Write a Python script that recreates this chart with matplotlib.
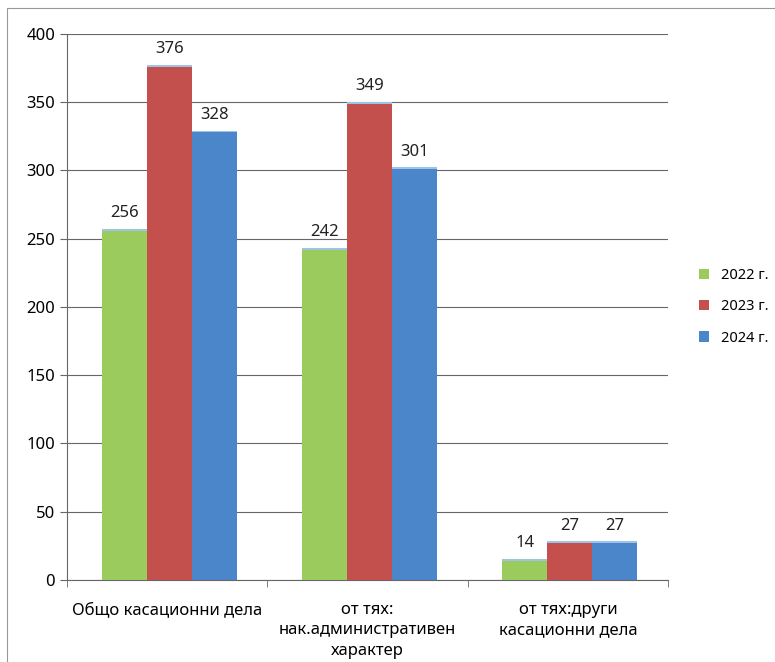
import numpy as np
import matplotlib.pyplot as plt
from matplotlib.patches import Rectangle

plt.rcParams['font.family'] = ['Noto Sans', 'DejaVu Sans']

categories = ['Общо касационни дела', 'от тях:\nнак.административен\nхарактер', 'от тях:други\nкасационни дела']
years = ['2022 г.', '2023 г.', '2024 г.']
v2022 = [256, 242, 14]
v2023 = [376, 349, 27]
v2024 = [328, 301, 27]
colors = ['#9bcb5c', '#c4504e', '#4a86c9']

fig = plt.figure(figsize=(7.75, 6.62), dpi=100)
ax = fig.add_axes([0.0865, 0.124, 0.7755, 0.8246])

x = np.arange(len(categories))
w = 0.225
for i, (vals, c, lab) in enumerate(zip([v2022, v2023, v2024], colors, years)):
    pos = x + (i - 1) * w + 0.01
    ax.bar(pos, vals, w, color=c, label=lab, zorder=3)
    # тънка светла "капачка" отгоре
    ax.bar(pos, [1.3] * len(vals), w, bottom=vals, color='#9dc3e6', zorder=3)
    for p, v in zip(pos, vals):
        ax.text(p, v + 7, str(v), ha='center', va='bottom', fontsize=12, color='#222222')

ax.set_xlim(-0.5, 2.5)
ax.set_ylim(0, 400)
ax.set_yticks(range(0, 401, 50))
ax.set_xticks(x)
ax.set_xticklabels(categories, fontsize=12, linespacing=1.35)
ax.set_xticks([-0.5, 0.5, 1.5, 2.5], minor=True)
ax.tick_params(axis='x', which='major', length=0, pad=16)
ax.tick_params(axis='x', which='minor', length=5, color='#666666')
ax.tick_params(axis='y', labelsize=12, length=5, color='#666666')
ax.grid(axis='y', color='#666666', linewidth=0.8, zorder=0)
for s in ['top', 'right']:
    ax.spines[s].set_visible(False)
ax.spines['left'].set_color('#666666')
ax.spines['bottom'].set_color('#666666')

ax.legend(loc='center left', bbox_to_anchor=(1.03, 0.5), frameon=False,
          fontsize=10.5, handlelength=0.7, handleheight=0.7, labelspacing=1.1)

fig.patches.append(Rectangle((7 / 775, -0.01), 1.0, 1 - 8 / 662 + 0.01,
                             transform=fig.transFigure, fill=False,
                             edgecolor='#999999', linewidth=0.8))

fig.savefig('out.png', dpi=100)
